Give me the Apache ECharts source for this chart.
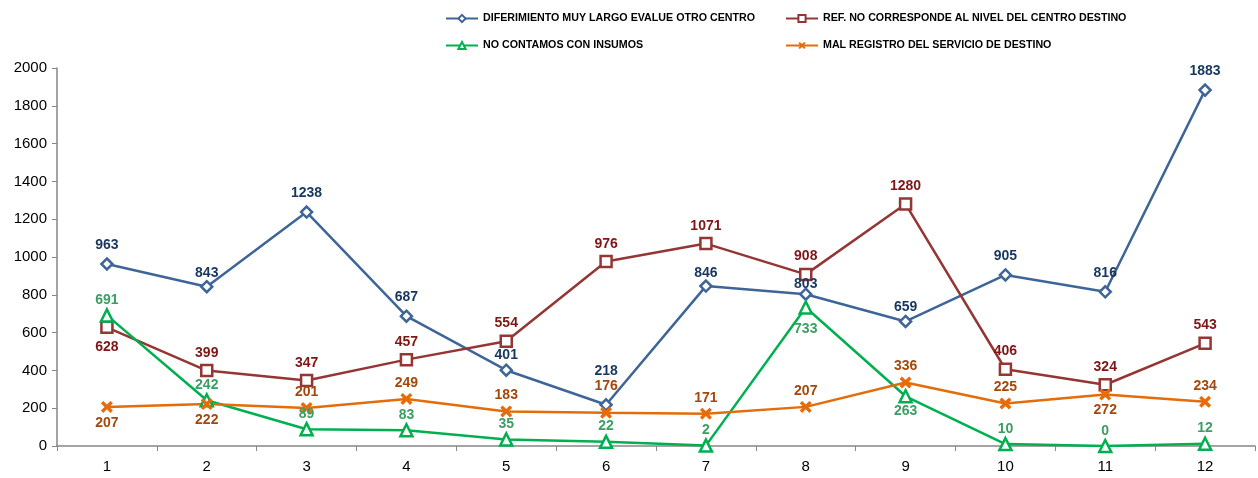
<!DOCTYPE html>
<html>
<head>
<meta charset="utf-8">
<script src="https://cdn.jsdelivr.net/npm/echarts@6/dist/echarts.min.js"></script>
<style>
html,body{margin:0;padding:0;background:#fff;}
#chart{width:1258px;height:478px;}
</style>
</head>
<body>
<div id="chart"></div>
<script>
var categories = ['1','2','3','4','5','6','7','8','9','10','11','12'];
var diferimiento = [963, 843, 1238, 687, 401, 218, 846, 803, 659, 905, 816, 1883];
var refNoCorresponde = [628, 399, 347, 457, 554, 976, 1071, 908, 1280, 406, 324, 543];
var noInsumos = [691, 242, 89, 83, 35, 22, 2, 733, 263, 10, 0, 12];
var malRegistro = [207, 222, 201, 249, 183, 176, 171, 207, 336, 225, 272, 234];
var seriesNames = [
  'DIFERIMIENTO MUY LARGO EVALUE OTRO CENTRO',
  'REF. NO CORRESPONDE AL NIVEL DEL CENTRO DESTINO',
  'NO CONTAMOS CON INSUMOS',
  'MAL REGISTRO DEL SERVICIO DE DESTINO'
];

var FONT = 'Liberation Sans';
var xPath = 'path://M2,0 L5,3 L8,0 L10,2 L7,5 L10,8 L8,10 L5,7 L2,10 L0,8 L3,5 L0,2 Z';

// label placement (style only): points whose label sits below, and small nudges
function buildData(values, below, nudges) {
  return values.map(function (v, i) {
    var item = { value: v };
    var lbl = {};
    if (below.indexOf(i) >= 0) lbl.position = 'bottom';
    if (nudges[i] !== undefined) lbl.offset = [0, nudges[i]];
    if (Object.keys(lbl).length) item.label = lbl;
    return item;
  });
}

function makeSeries(name, values, below, nudges, lineColor, labelColor, symbol, symbolSize, hollow, dist) {
  return {
    name: name,
    type: 'line',
    data: buildData(values, below, nudges),
    symbol: symbol,
    symbolSize: symbolSize,
    showAllSymbol: true,
    lineStyle: { color: lineColor, width: 2.5 },
    itemStyle: hollow ? { color: '#fff', borderColor: lineColor, borderWidth: 2.5 } : { color: lineColor, borderColor: lineColor, borderWidth: 0 },
    label: {
      show: true,
      position: 'top',
      distance: dist,
      color: labelColor,
      fontFamily: FONT,
      fontWeight: 'bold',
      fontSize: 14
    },
    emphasis: { disabled: true },
    animation: false
  };
}

var legendText = { fontFamily: FONT, fontWeight: 'bold', fontSize: 10.7, color: '#000' };
function legendAt(name, left, top) {
  return {
    data: [name], left: left, top: top, itemWidth: 32, itemHeight: 9, itemGap: 0,
    textStyle: legendText, padding: 0, selectedMode: false
  };
}

var chart = echarts.init(document.getElementById('chart'), null, { renderer: 'canvas' });
chart.setOption({
  animation: false,
  backgroundColor: '#fff',
  legend: [
    legendAt(seriesNames[0], 445, 13),
    legendAt(seriesNames[1], 785, 13),
    legendAt(seriesNames[2], 445, 40),
    legendAt(seriesNames[3], 785, 40)
  ],
  grid: { left: 57, right: 3, top: 68, bottom: 32 },
  xAxis: {
    type: 'category',
    data: categories,
    boundaryGap: true,
    axisLine: { lineStyle: { color: '#868686', width: 1.5 } },
    axisTick: { show: true, alignWithLabel: false, length: 5, lineStyle: { color: '#868686' } },
    axisLabel: { color: '#000', fontFamily: FONT, fontSize: 15, margin: 13 },
    splitLine: { show: false }
  },
  yAxis: {
    type: 'value',
    min: 0, max: 2000, interval: 200,
    axisLine: { show: true, lineStyle: { color: '#868686', width: 1.5 } },
    axisTick: { show: true, length: 5, lineStyle: { color: '#868686' } },
    axisLabel: { color: '#000', fontFamily: FONT, fontSize: 15, margin: 10, formatter: function (v) { return String(v); } },
    splitLine: { show: false }
  },
  series: [
    makeSeries(seriesNames[0], diferimiento, [], {1: 5, 4: 4, 5: -15, 6: 6, 7: 9, 8: 4}, '#3E6598', '#17375E', 'diamond', 11, true, 5),
    makeSeries(seriesNames[1], refNoCorresponde, [0], {0: 2}, '#943634', '#7F1616', 'rect', 11, true, 4),
    makeSeries(seriesNames[2], noInsumos, [7, 8], {7: 6}, '#00B050', '#3C9E63', 'triangle', 12, true, 1),
    makeSeries(seriesNames[3], malRegistro, [0, 1, 10], {5: -11}, '#E46C0A', '#A4480C', xPath, 12, false, 3)
  ]
});
</script>
</body>
</html>
